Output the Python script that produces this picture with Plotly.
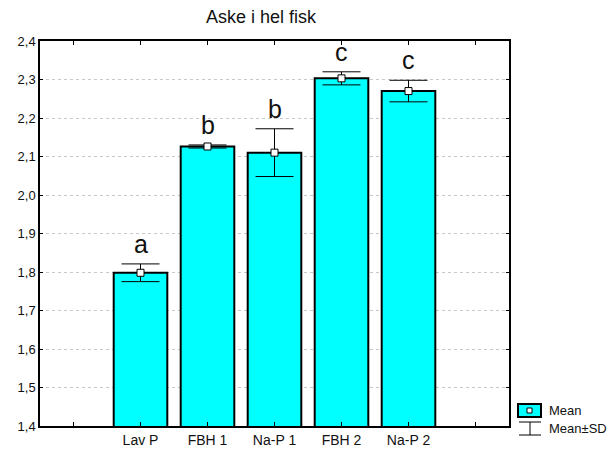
import plotly.graph_objects as go

# Ash content in whole fish per diet group
categories = ["Lav P", "FBH 1", "Na-P 1", "FBH 2", "Na-P 2"]
means = [1.798, 2.126, 2.110, 2.303, 2.270]
sds = [0.023, 0.004, 0.062, 0.017, 0.028]
groups = ["a", "b", "b", "c", "c"]

y_ticks = [1.4, 1.5, 1.6, 1.7, 1.8, 1.9, 2.0, 2.1, 2.2, 2.3, 2.4]
y_ticktext = [f"{v:.1f}".replace(".", ",") for v in y_ticks]

W, H = 610, 449
ML, MR, MT, MB = 40, 101, 41, 23
FONT = "Liberation Sans, Arial, sans-serif"

xpos = list(range(1, len(categories) + 1))
x_tickvals = list(range(0, len(categories) + 2))
x_ticktext = [""] + categories + [""]

fig = go.Figure()

fig.add_trace(go.Bar(
    x=xpos, y=means, width=0.8,
    marker=dict(color="#00FFFF", line=dict(color="black", width=2)),
    error_y=dict(type="data", array=sds, visible=True, color="black",
                 thickness=1, width=19),
    showlegend=False, hoverinfo="skip",
))
fig.add_trace(go.Scatter(
    x=xpos, y=means, mode="markers",
    marker=dict(symbol="square", size=7, color="white",
                line=dict(color="black", width=1)),
    showlegend=False, hoverinfo="skip",
))

for x, m, s, g in zip(xpos, means, sds, groups):
    fig.add_annotation(x=x, y=m + s, text=g, showarrow=False,
                       yanchor="bottom", yshift=4,
                       font=dict(family=FONT, size=25, color="#111111"))


# legend drawn in pixel terms, converted to paper coordinates
def px(xp):
    return (xp - ML) / (W - ML - MR)


def py(yp):
    return 1 - (yp - MT) / (H - MT - MB)


shapes = [
    dict(type="rect", xref="paper", yref="paper", x0=px(518), x1=px(541),
         y0=py(417), y1=py(404), fillcolor="#00FFFF",
         line=dict(color="black", width=2)),
    dict(type="rect", xref="paper", yref="paper", x0=px(527), x1=px(532),
         y0=py(413), y1=py(408), fillcolor="white",
         line=dict(color="black", width=1)),
    dict(type="line", xref="paper", yref="paper", x0=px(519), x1=px(541),
         y0=py(422), y1=py(422), line=dict(color="black", width=1)),
    dict(type="line", xref="paper", yref="paper", x0=px(530), x1=px(530),
         y0=py(422), y1=py(435), line=dict(color="black", width=1)),
    dict(type="line", xref="paper", yref="paper", x0=px(519), x1=px(541),
         y0=py(435), y1=py(435), line=dict(color="black", width=1)),
]
fig.add_annotation(xref="paper", yref="paper", x=px(547), y=py(410.5),
                   text="Mean", showarrow=False, xanchor="left",
                   yanchor="middle", font=dict(family=FONT, size=13, color="#111111"))
fig.add_annotation(xref="paper", yref="paper", x=px(547), y=py(428),
                   text="Mean±SD", showarrow=False, xanchor="left",
                   yanchor="middle", font=dict(family=FONT, size=13, color="#111111"))

fig.update_layout(
    width=W, height=H,
    margin=dict(l=ML, r=MR, t=MT, b=MB, autoexpand=False),
    paper_bgcolor="white", plot_bgcolor="white",
    font=dict(family=FONT, color="#111111"),
    title=dict(text="Aske i hel fisk", x=261 / W, xanchor="center",
               y=1 - 17 / H, yanchor="middle", yref="container",
               font=dict(family=FONT, size=18, color="#111111")),
    shapes=shapes,
    bargap=0.2,
)

fig.update_xaxes(
    range=[-0.5, len(categories) + 1.5],
    tickvals=x_tickvals, ticktext=x_ticktext,
    ticks="inside", ticklen=4, tickcolor="black",
    showline=True, linecolor="black", linewidth=1.5, mirror="ticks",
    showgrid=False, zeroline=False, automargin=False,
    tickfont=dict(family=FONT, size=14, color="#111111"),
)
fig.update_yaxes(
    range=[1.4, 2.4],
    tickvals=y_ticks, ticktext=y_ticktext,
    ticks="inside", ticklen=3, tickcolor="black",
    showline=True, linecolor="black", linewidth=1.5, mirror="ticks",
    showgrid=True, gridcolor="#c8c8c8", gridwidth=1, griddash="dot",
    zeroline=False, automargin=False,
    tickfont=dict(family=FONT, size=13, color="#111111"),
)

fig.write_html("out.html")
